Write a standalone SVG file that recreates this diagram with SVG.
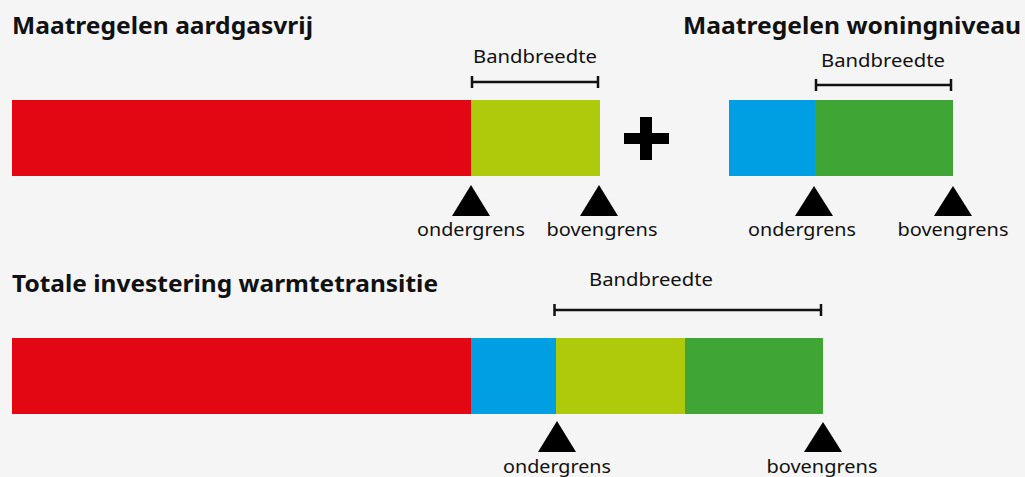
<svg xmlns="http://www.w3.org/2000/svg" width="1025" height="477" viewBox="0 0 1025 477">
<style>
.title{font-family:"Noto Sans","Open Sans",sans-serif;font-weight:bold;font-size:24px;fill:#111}
.lbl{font-family:"Noto Sans","Open Sans",sans-serif;font-size:18.5px;fill:#111;text-anchor:middle}
.red{fill:#e30613}.yg{fill:#afca0b}.blue{fill:#009fe3}.green{fill:#3fa535}
.br{stroke:#111;stroke-width:2.5;fill:none}
.tri{fill:#000}
</style>
<rect width="1025" height="477" fill="#f5f5f5"/>
<g id="title-aardgasvrij"><text class="title" x="12" y="34" textLength="301" lengthAdjust="spacingAndGlyphs">Maatregelen aardgasvrij</text></g>
<g id="title-woningniveau"><text class="title" x="683" y="34" textLength="338" lengthAdjust="spacingAndGlyphs">Maatregelen woningniveau</text></g>
<g id="title-totaal"><text class="title" x="12" y="292" textLength="426" lengthAdjust="spacingAndGlyphs">Totale investering warmtetransitie</text></g>

<g id="bar-aardgasvrij">
<rect class="red" x="12" y="100" width="459" height="76"/>
<rect class="yg" x="471" y="100" width="129" height="76"/>
</g>
<g id="plus"><rect x="640" y="117" width="12" height="43" fill="#000"/><rect x="624" y="133" width="45" height="11" fill="#000"/></g>
<g id="bar-woningniveau">
<rect class="blue" x="729" y="100" width="86" height="76"/>
<rect class="green" x="815" y="100" width="138" height="76"/>
</g>
<g id="bar-totaal">
<rect class="red" x="12" y="338" width="459" height="76"/>
<rect class="blue" x="471" y="338" width="85" height="76"/>
<rect class="yg" x="556" y="338" width="129" height="76"/>
<rect class="green" x="685" y="338" width="138" height="76"/>
</g>

<g id="connectors">
<path class="br" d="M472 82H598M472 76V88M598 76V88"/>
<path class="br" d="M816 85H951M816 79V91M951 79V91"/>
<path class="br" d="M554.5 310H821M554.5 304V316M821 304V316"/>
</g>

<g id="bandbreedte-labels">
<text class="lbl" x="535" y="63" textLength="124" lengthAdjust="spacingAndGlyphs">Bandbreedte</text>
<text class="lbl" x="883" y="67" textLength="124" lengthAdjust="spacingAndGlyphs">Bandbreedte</text>
<text class="lbl" x="651" y="286" textLength="124" lengthAdjust="spacingAndGlyphs">Bandbreedte</text>
</g>

<g id="markers">
<polygon class="tri" points="471,185 452,216 490,216"/>
<polygon class="tri" points="599,185 580,216 618,216"/>
<polygon class="tri" points="814,186 795,216 833,216"/>
<polygon class="tri" points="953,186 934,216 972,216"/>
<polygon class="tri" points="557,421 538,452 576,452"/>
<polygon class="tri" points="823,422 804,452 842,452"/>
</g>
<g id="marker-labels">
<text class="lbl" x="471" y="236" textLength="108" lengthAdjust="spacingAndGlyphs">ondergrens</text>
<text class="lbl" x="602" y="236" textLength="111" lengthAdjust="spacingAndGlyphs">bovengrens</text>
<text class="lbl" x="802" y="236" textLength="108" lengthAdjust="spacingAndGlyphs">ondergrens</text>
<text class="lbl" x="953" y="236" textLength="111" lengthAdjust="spacingAndGlyphs">bovengrens</text>
<text class="lbl" x="557" y="473" textLength="108" lengthAdjust="spacingAndGlyphs">ondergrens</text>
<text class="lbl" x="822" y="473" textLength="111" lengthAdjust="spacingAndGlyphs">bovengrens</text>
</g>
</svg>
